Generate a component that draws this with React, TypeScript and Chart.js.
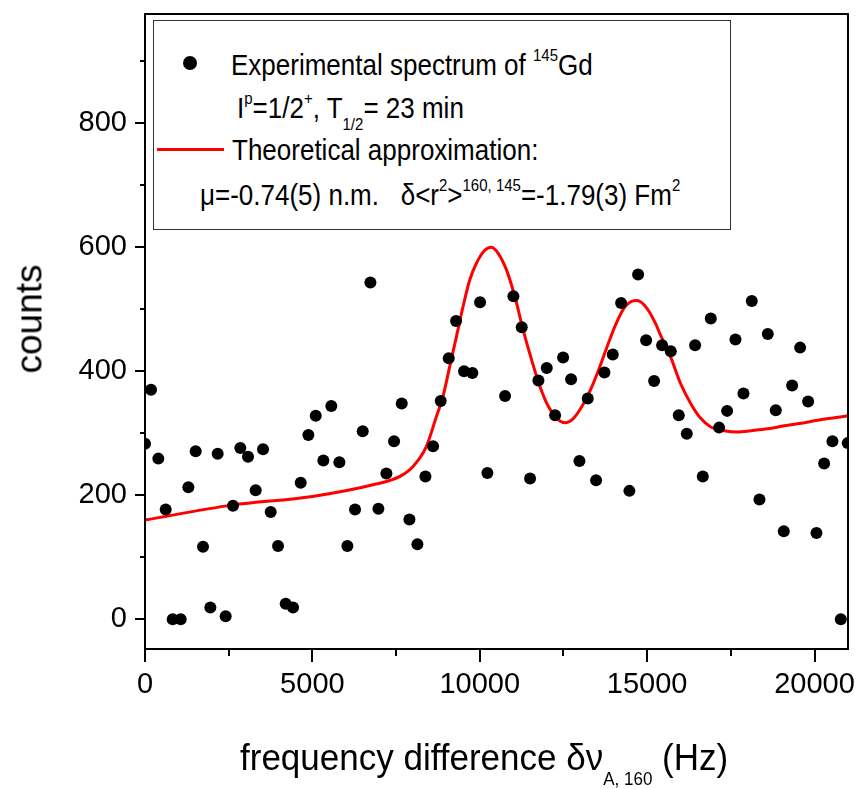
import React, { useEffect, useRef } from "react";
import { Chart, registerables } from "chart.js";

Chart.register(...registerables);

// ---- data ----
const expX = [0, 179, 398, 618, 827, 1066, 1295, 1514, 1733, 1952, 2171, 2410, 2629, 2848, 3077, 3306, 3526, 3755, 3974, 4203, 4422, 4651, 4880, 5100, 5328, 5566, 5806, 6045, 6274, 6504, 6733, 6972, 7211, 7440, 7669, 7899, 8138, 8377, 8605, 8834, 9073, 9292, 9531, 9780, 10009, 10228, 10756, 11005, 11254, 11503, 11752, 12001, 12250, 12489, 12728, 12977, 13226, 13475, 13724, 13973, 14222, 14470, 14730, 14969, 15208, 15447, 15706, 15945, 16184, 16433, 16662, 16901, 17150, 17389, 17638, 17877, 18126, 18355, 18604, 18843, 19082, 19331, 19570, 19809, 20058, 20287, 20535, 20785, 20990];
const expY = [283, 370, 259, 177, 0, 0, 213, 271, 117, 19, 267, 5, 183, 276, 262, 208, 274, 173, 118, 25, 19, 220, 297, 328, 256, 344, 253, 118, 177, 303, 543, 178, 235, 287, 348, 161, 121, 230, 279, 352, 421, 481, 400, 397, 511, 236, 360, 521, 471, 227, 385, 405, 329, 422, 387, 255, 356, 224, 398, 427, 510, 207, 556, 450, 384, 442, 432, 329, 299, 442, 230, 485, 309, 336, 451, 364, 513, 193, 460, 337, 142, 377, 438, 351, 139, 251, 287, 0, 284];

const fitX = [0, 2600, 5000, 6900, 7600, 8000, 8400, 8700, 8900, 9100, 9300, 9500, 9700, 9900, 10150, 10350, 10550, 10800, 11050, 11300, 11550, 11800, 12050, 12300, 12550, 12800, 13050, 13300, 13550, 13800, 14050, 14300, 14550, 14700, 15000, 15250, 15400, 15700, 16000, 16300, 16600, 16900, 17300, 17700, 18100, 18600, 19100, 19600, 20100, 20600, 21000];
const fitY = [160, 184, 198, 218, 230, 246, 278, 326, 359, 407, 455, 504, 547, 574, 595, 600, 590, 563, 520, 466, 418, 375, 343, 324, 317, 324, 343, 369, 402, 439, 474, 501, 513, 514, 501, 477, 458, 423, 380, 348, 324, 310, 304, 302, 304, 307, 312, 316, 321, 325, 328];

const xTickValues = [0, 5000, 10000, 15000, 20000];
const xMinorTicks = [2500, 7500, 12500, 17500];
const yTickValues = [0, 200, 400, 600, 800];
const yMinorTicks = [100, 300, 500, 700, 900];

const FONT = '"Liberation Sans", Arial, Helvetica, sans-serif';

const framePlugin = {
  id: "frameAndMinor",
  afterDraw(chart: any) {
    const { ctx, chartArea: a, scales } = chart;
    const x = scales.x;
    const y = scales.y;
    ctx.save();
    ctx.strokeStyle = "#000";
    ctx.lineWidth = 2;
    ctx.strokeRect(a.left, a.top, a.right - a.left, a.bottom - a.top);
    ctx.beginPath();
    xMinorTicks.forEach((v) => {
      const px = Math.round(x.getPixelForValue(v));
      ctx.moveTo(px, a.bottom);
      ctx.lineTo(px, a.bottom + 7);
    });
    yMinorTicks.forEach((v) => {
      const py = Math.round(y.getPixelForValue(v));
      ctx.moveTo(a.left, py);
      ctx.lineTo(a.left - 5, py);
    });
    ctx.stroke();
    ctx.restore();
  },
};

function Txt(props: { left: number; base: number; fs: number; sy?: number; children: any }) {
  const { left, base, fs, sy, children } = props;
  const asc = 0.8465 * fs;
  return (
    <div
      style={{
        position: "absolute",
        left,
        top: base - asc,
        fontSize: fs,
        lineHeight: fs + "px",
        whiteSpace: "pre",
        fontFamily: FONT,
        color: "#000",
        transform: `scaleY(${sy || 1})`,
        transformOrigin: `0px ${asc}px`,
      }}
    >
      {children}
    </div>
  );
}

function Sup(props: { fs: number; dy: number; children: any }) {
  return (
    <span style={{ fontSize: props.fs, position: "relative", top: props.dy, lineHeight: 0 }}>
      {props.children}
    </span>
  );
}

export default function App() {
  const ref = useRef<HTMLCanvasElement | null>(null);

  useEffect(() => {
    if (!ref.current) return;
    const chart = new Chart(ref.current, {
      type: "scatter",
      data: {
        datasets: [
          {
            type: "scatter",
            label: "Experimental spectrum",
            data: expX.map((v, i) => ({ x: v, y: expY[i] })),
            pointRadius: 6,
            pointHoverRadius: 6,
            pointBackgroundColor: "#000",
            pointBorderColor: "#000",
            pointBorderWidth: 0,
            clip: 0,
            order: 0,
          },
          {
            type: "line",
            label: "Theoretical approximation",
            data: fitX.map((v, i) => ({ x: v, y: fitY[i] })),
            borderColor: "#ff0000",
            borderWidth: 3,
            pointRadius: 0,
            fill: false,
            cubicInterpolationMode: "monotone",
            clip: 0,
            order: 1,
          } as any,
        ],
      },
      options: {
        responsive: false,
        maintainAspectRatio: false,
        animation: false,
        layout: { padding: { left: 0, top: 14, right: 12, bottom: 0 } },
        plugins: { legend: { display: false }, tooltip: { enabled: false } },
        scales: {
          x: {
            type: "linear",
            min: 0,
            max: 21000,
            afterBuildTicks: (s: any) => {
              s.ticks = xTickValues.map((v) => ({ value: v }));
            },
            afterFit: (s: any) => {
              s.height = 140;
              s.paddingLeft = 0;
              s.paddingRight = 0;
            },
            grid: { drawOnChartArea: false, drawTicks: true, tickLength: 13, color: "#000", lineWidth: 2 },
            border: { display: true, color: "#000", width: 2 },
            ticks: {
              color: "#000",
              font: { family: FONT, size: 29 },
              padding: 6,
              maxRotation: 0,
              autoSkip: false,
              callback: (v: any) => String(v),
            },
          },
          y: {
            type: "linear",
            min: -48,
            max: 976,
            afterBuildTicks: (s: any) => {
              s.ticks = yTickValues.map((v) => ({ value: v }));
            },
            afterFit: (s: any) => {
              s.width = 145;
              s.paddingTop = 0;
              s.paddingBottom = 0;
            },
            grid: { drawOnChartArea: false, drawTicks: true, tickLength: 10, color: "#000", lineWidth: 2 },
            border: { display: true, color: "#000", width: 2 },
            ticks: {
              color: "#000",
              font: { family: FONT, size: 29 },
              padding: 8,
              autoSkip: false,
              callback: (v: any) => String(v),
            },
          },
        },
      },
      plugins: [framePlugin],
    } as any);
    return () => chart.destroy();
  }, []);

  const LF = 26;
  const SF = 15;
  const LSY = 1.13;

  return (
    <div style={{ position: "fixed", left: 0, top: 0, width: 860, height: 789, background: "#fff", overflow: "hidden" }}>
      <canvas ref={ref} width={860} height={789} style={{ position: "absolute", left: 0, top: 0, width: 860, height: 789 }} />

      {/* y axis title */}
      <div
        style={{
          position: "absolute",
          left: 29,
          top: 319,
          transform: "translate(-50%, -50%) rotate(-90deg)",
          fontSize: 37,
          lineHeight: "37px",
          fontFamily: FONT,
          whiteSpace: "pre",
          color: "#000",
        }}
      >
        counts
      </div>

      {/* x axis title */}
      <Txt left={240} base={770} fs={35} sy={1.08}>
        {"frequency difference δν"}
        <Sup fs={17} dy={14}>{"A, 160"}</Sup>
        {" (Hz)"}
      </Txt>

      {/* legend box */}
      <div
        style={{
          position: "absolute",
          left: 153,
          top: 20,
          width: 576,
          height: 208,
          border: "1px solid #333",
          background: "#fff",
        }}
      />
      <div
        style={{ position: "absolute", left: 183, top: 56, width: 14, height: 14, borderRadius: "50%", background: "#000" }}
      />
      <div style={{ position: "absolute", left: 157, top: 148, width: 67, height: 3, background: "#ff0000" }} />

      <Txt left={231} base={75} fs={LF} sy={LSY}>
        {"Experimental spectrum of "}
        <Sup fs={SF} dy={-12}>145</Sup>
        {"Gd"}
      </Txt>
      <Txt left={237} base={118} fs={LF} sy={LSY}>
        {"I"}
        <Sup fs={SF} dy={-12}>p</Sup>
        {"=1/2"}
        <Sup fs={SF} dy={-12}>+</Sup>
        {", T"}
        <Sup fs={SF} dy={11}>1/2</Sup>
        {"= 23 min"}
      </Txt>
      <Txt left={232} base={160} fs={LF} sy={LSY}>
        {"Theoretical approximation:"}
      </Txt>
      <Txt left={200} base={205} fs={LF} sy={LSY}>
        {"μ=-0.74(5) n.m.   δ<r"}
        <Sup fs={SF} dy={-12}>2</Sup>
        {">"}
        <Sup fs={SF} dy={-12}>160, 145</Sup>
        {"=-1.79(3) Fm"}
        <Sup fs={SF} dy={-12}>2</Sup>
      </Txt>
    </div>
  );
}
